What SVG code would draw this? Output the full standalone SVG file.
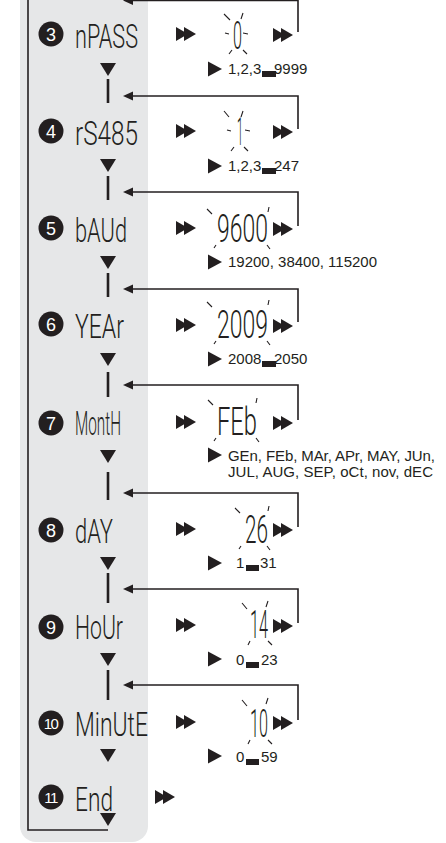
<svg xmlns="http://www.w3.org/2000/svg" width="446" height="843" viewBox="0 0 446 843">
<style>
.ln{stroke:#231f20;stroke-width:1.6;fill:none}
.bar{stroke:#231f20;stroke-width:2.6;fill:none}
.fl{stroke:#231f20;stroke-width:1.1;fill:none}
.k{fill:#231f20}
.num{font-family:"Liberation Sans",Arial,sans-serif;font-size:18px;fill:#fff;text-anchor:middle}
.num2{font-family:"Liberation Sans",Arial,sans-serif;font-size:15px;fill:#fff;text-anchor:middle;letter-spacing:-1.5px}
.lcd{font-family:Roboto,"Liberation Sans",sans-serif;font-weight:300;font-size:34px;fill:#231f20}
.val{font-family:Roboto,"Liberation Sans",sans-serif;font-weight:300;font-size:38px;fill:#231f20}
.rng{font-family:"Liberation Sans",Arial,sans-serif;font-size:15px;fill:#231f20}
</style>
<defs>
<g id="dbl"><polygon points="0,-7 0,7 12,0"/><polygon points="8,-7 8,7 20,0"/></g>
<polygon id="dn" points="-8,0 8,0 0,13"/>
<polygon id="rt" points="0,-7.5 0,7.5 14,0"/>
<polygon id="lt" points="0,0 10,-4.5 10,4.5"/>
</defs>
<rect x="20" y="-30" width="128" height="872" rx="16" fill="#e6e7e8"/>

<g id="connectors">
<polyline class="ln" points="28,0 28,830 108,830"/>
<polyline class="ln" points="132,0.5 298,0.5 298,32"/>
<use href="#lt" x="123" y="0.5" class="k"/>
<polyline class="ln" points="130,96 298,96 298,129"/><use href="#lt" x="123" y="96" class="k"/>
<polyline class="ln" points="130,192 298,192 298,226"/><use href="#lt" x="123" y="192" class="k"/>
<polyline class="ln" points="130,289 298,289 298,322"/><use href="#lt" x="123" y="289" class="k"/>
<polyline class="ln" points="130,385 298,385 298,420"/><use href="#lt" x="123" y="385" class="k"/>
<polyline class="ln" points="130,493 298,493 298,527"/><use href="#lt" x="123" y="493" class="k"/>
<polyline class="ln" points="130,589 298,589 298,623"/><use href="#lt" x="123" y="589" class="k"/>
<polyline class="ln" points="130,685 298,685 298,720"/><use href="#lt" x="123" y="685" class="k"/>
<line class="bar" x1="108" y1="79" x2="108" y2="103"/>
<line class="bar" x1="108" y1="176" x2="108" y2="200"/>
<line class="bar" x1="108" y1="273" x2="108" y2="297"/>
<line class="bar" x1="108" y1="372" x2="108" y2="397"/>
<line class="bar" x1="108" y1="472" x2="108" y2="500"/>
<line class="bar" x1="108" y1="573" x2="108" y2="603"/>
<line class="bar" x1="108" y1="670" x2="108" y2="700"/>
<g class="k">
<use href="#dn" x="108" y="63"/><use href="#dn" x="108" y="159"/><use href="#dn" x="108" y="256"/>
<use href="#dn" x="108" y="353"/><use href="#dn" x="108" y="450"/><use href="#dn" x="108" y="557"/>
<use href="#dn" x="108" y="653"/><use href="#dn" x="108" y="749"/><use href="#dn" x="108" y="813"/>
</g>
</g>

<g id="row3">
<circle cx="51" cy="34" r="12.5" class="k"/><text x="51" y="40.5" class="num">3</text>
<text x="75" y="48" class="lcd" textLength="63" lengthAdjust="spacingAndGlyphs">nPASS</text>
<use href="#dbl" x="176" y="34" class="k"/>
<text x="233" y="49" class="val" textLength="9" lengthAdjust="spacingAndGlyphs">0</text>
<path class="fl" d="M224,14L230,20M243,13L241,19M225,33L229,34M243,33L248,34M232,50L229,54M243,50L247,54"/>
<use href="#dbl" x="273" y="35" class="k"/>
<use href="#rt" x="208" y="69" class="k"/>
<text x="228" y="74" class="rng">1,2,3</text><rect x="262" y="71" width="14" height="6" class="k"/><text x="274" y="74" class="rng">9999</text>
</g>

<g id="row4">
<circle cx="51" cy="131" r="12.5" class="k"/><text x="51" y="137.5" class="num">4</text>
<text x="75" y="145" class="lcd" textLength="63" lengthAdjust="spacingAndGlyphs">rS485</text>
<use href="#dbl" x="176" y="131" class="k"/>
<text x="237" y="145" class="val" textLength="6" lengthAdjust="spacingAndGlyphs">1</text>
<path class="fl" d="M224,111L229,117M243,111L241,117M227,130L231,131M245,130L250,131M234,147L231,151M244,147L248,151"/>
<use href="#dbl" x="273" y="132" class="k"/>
<use href="#rt" x="208" y="166" class="k"/>
<text x="228" y="171" class="rng">1,2,3</text><rect x="262" y="168" width="14" height="6" class="k"/><text x="274" y="171" class="rng">247</text>
</g>

<g id="row5">
<circle cx="51" cy="228" r="12.5" class="k"/><text x="51" y="234.5" class="num">5</text>
<text x="75" y="242" class="lcd" textLength="52" lengthAdjust="spacingAndGlyphs">bAUd</text>
<use href="#dbl" x="176" y="228" class="k"/>
<text x="217" y="242" class="val" textLength="51" lengthAdjust="spacingAndGlyphs">9600</text>
<path class="fl" d="M207,209L212,214M269,207L268,212M216,245L214,248M267,245L270,249"/>
<use href="#dbl" x="273" y="229" class="k"/>
<use href="#rt" x="208" y="262" class="k"/>
<text x="228" y="267" class="rng">19200, 38400, 115200</text>
</g>

<g id="row6">
<circle cx="51" cy="324" r="12.5" class="k"/><text x="51" y="330.5" class="num">6</text>
<text x="75" y="338" class="lcd" textLength="49" lengthAdjust="spacingAndGlyphs">YEAr</text>
<use href="#dbl" x="176" y="325" class="k"/>
<text x="217" y="338" class="val" textLength="51" lengthAdjust="spacingAndGlyphs">2009</text>
<path class="fl" d="M207,302L212,307M269,300L268,305M216,341L214,344M267,341L270,345"/>
<use href="#dbl" x="273" y="326" class="k"/>
<use href="#rt" x="208" y="359" class="k"/>
<text x="228" y="364" class="rng">2008</text><rect x="262" y="361" width="14" height="6" class="k"/><text x="274" y="364" class="rng">2050</text>
</g>

<g id="row7">
<circle cx="51" cy="423" r="12.5" class="k"/><text x="51" y="429.5" class="num">7</text>
<text x="75" y="435" class="lcd" textLength="46" lengthAdjust="spacingAndGlyphs">MontH</text>
<use href="#dbl" x="176" y="422" class="k"/>
<text x="217" y="435" class="val" textLength="40" lengthAdjust="spacingAndGlyphs">FEb</text>
<path class="fl" d="M208,400L213,405M257,398L256,403M216,438L214,441M256,438L259,442"/>
<use href="#dbl" x="273" y="423" class="k"/>
<use href="#rt" x="208" y="455" class="k"/>
<text x="228" y="461" class="rng" textLength="207">GEn, FEb, MAr, APr, MAY, JUn,</text>
<text x="228" y="477" class="rng" textLength="205">JUL, AUG, SEP, oCt, nov, dEC</text>
</g>

<g id="row8">
<circle cx="51" cy="530" r="12.5" class="k"/><text x="51" y="536.5" class="num">8</text>
<text x="75" y="543" class="lcd" textLength="38" lengthAdjust="spacingAndGlyphs">dAY</text>
<use href="#dbl" x="176" y="529" class="k"/>
<text x="245" y="543" class="val" textLength="23" lengthAdjust="spacingAndGlyphs">26</text>
<path class="fl" d="M235,508L240,513M269,506L268,511M241,546L239,549M267,546L270,550"/>
<use href="#dbl" x="273" y="530" class="k"/>
<use href="#rt" x="208" y="563" class="k"/>
<text x="236" y="568" class="rng">1</text><rect x="246" y="565" width="13" height="6" class="k"/><text x="260" y="568" class="rng">31</text>
</g>

<g id="row9">
<circle cx="51" cy="627" r="12.5" class="k"/><text x="51" y="633.5" class="num">9</text>
<text x="75" y="639" class="lcd" textLength="48" lengthAdjust="spacingAndGlyphs">HoUr</text>
<use href="#dbl" x="176" y="625" class="k"/>
<text x="250" y="638" class="val" textLength="18" lengthAdjust="spacingAndGlyphs">14</text>
<path class="fl" d="M242,603L247,609M268,601L266,607M250,641L248,645M268,641L272,645"/>
<use href="#dbl" x="273" y="626" class="k"/>
<use href="#rt" x="208" y="659" class="k"/>
<text x="236" y="665" class="rng">0</text><rect x="246" y="662" width="13" height="6" class="k"/><text x="261" y="665" class="rng">23</text>
</g>

<g id="row10">
<circle cx="51" cy="723" r="12.5" class="k"/><text x="50.5" y="728.5" class="num2">10</text>
<text x="75" y="736" class="lcd" textLength="73" lengthAdjust="spacingAndGlyphs">MinUtE</text>
<use href="#dbl" x="176" y="722" class="k"/>
<text x="250" y="737" class="val" textLength="18" lengthAdjust="spacingAndGlyphs">10</text>
<path class="fl" d="M242,700L247,706M268,698L266,704M250,740L248,744M268,740L272,744"/>
<use href="#dbl" x="273" y="723" class="k"/>
<use href="#rt" x="208" y="756" class="k"/>
<text x="236" y="762" class="rng">0</text><rect x="246" y="759" width="13" height="6" class="k"/><text x="261" y="762" class="rng">59</text>
</g>

<g id="row11">
<circle cx="51" cy="797" r="12.5" class="k"/><text x="50.5" y="802.5" class="num2">11</text>
<text x="75" y="811" class="lcd" textLength="38" lengthAdjust="spacingAndGlyphs">End</text>
<use href="#dbl" x="155" y="797" class="k"/>
</g>
</svg>
